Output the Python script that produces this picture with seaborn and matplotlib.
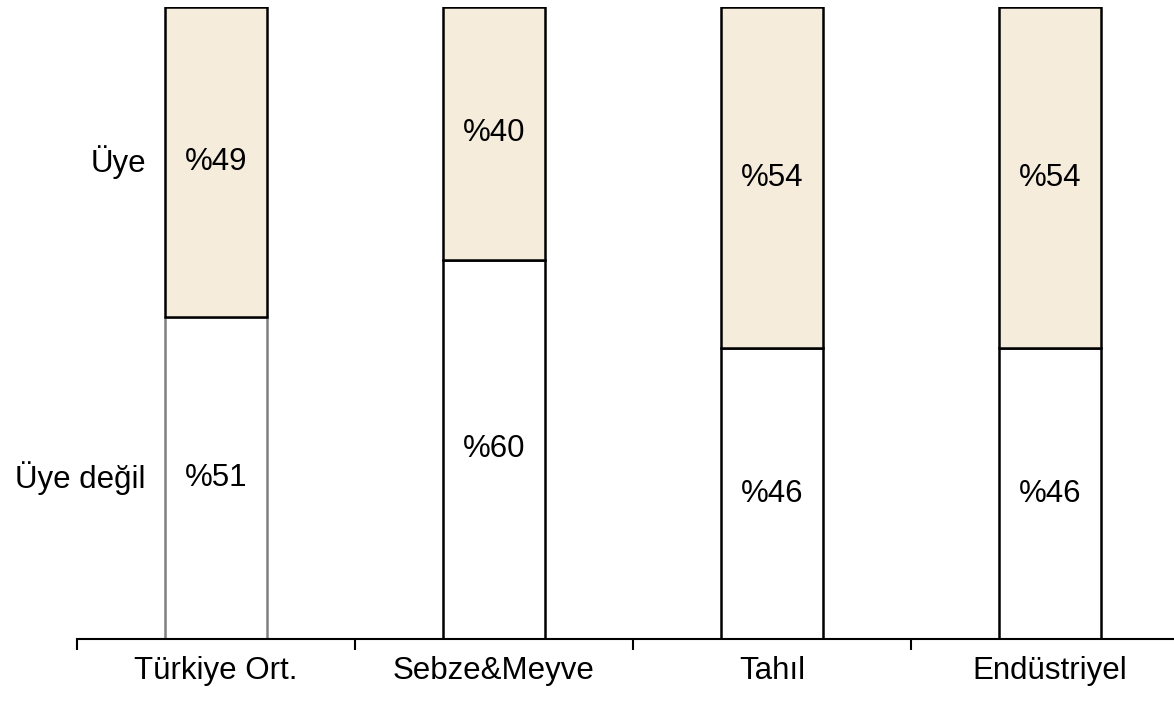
import matplotlib
matplotlib.use("Agg")
import matplotlib.pyplot as plt
import seaborn as sns
import pandas as pd

categories = ["Türkiye Ort.", "Sebze&Meyve", "Tahıl", "Endüstriyel"]
uye_degil = [51, 60, 46, 46]
uye = [49, 40, 54, 54]
series_labels = ["Üye", "Üye değil"]

BEIGE = "#F5ECDC"
FS = 22.5

sns.set_style("white")
plt.rcParams["font.family"] = ["Liberation Sans", "DejaVu Sans"]
plt.rcParams["text.color"] = "black"
plt.rcParams["xtick.color"] = "black"
plt.rcParams["xtick.labelcolor"] = "black"

df = pd.DataFrame({"cat": categories, "lower": uye_degil, "upper": uye})

fig = plt.figure(figsize=(11.74, 7.01), dpi=100)
ax = fig.add_axes([77 / 1174, 62 / 701, 1112 / 1174, 632 / 701])

w = 0.365
# lower segment (Üye değil)
sns.barplot(data=df, x="cat", y="lower", color="white", width=w,
            edgecolor="black", linewidth=1.8, ax=ax, saturation=1)
lower_patches = list(ax.patches)
# upper segment (Üye)
sns.barplot(data=df, x="cat", y="upper", color=BEIGE, width=w,
            edgecolor="black", linewidth=1.8, ax=ax, saturation=1)
upper_patches = ax.patches[len(lower_patches):]
for p, b in zip(upper_patches, df["lower"]):
    p.set_y(b)
    p.set_zorder(3)
# first bar lower segment has a grey outline
lower_patches[0].set_edgecolor("#808080")

for i, (lo, up) in enumerate(zip(uye_degil, uye)):
    ax.text(i, lo / 2, f"%{lo}", ha="center", va="center", fontsize=FS, zorder=5)
    ax.text(i, lo + up / 2, f"%{up}", ha="center", va="center", fontsize=FS, zorder=5)

# series labels to the left of the first bar
ax.annotate(series_labels[0], xy=(-w / 2, uye_degil[0] + uye[0] / 2),
            xytext=(-14, 0), textcoords="offset points",
            ha="right", va="center", fontsize=FS)
ax.annotate(series_labels[1], xy=(-w / 2, uye_degil[0] / 2),
            xytext=(-14, 0), textcoords="offset points",
            ha="right", va="center", fontsize=FS)

ax.set_xlim(-0.5, len(categories) - 0.5)
ax.set_ylim(0, 100)
ax.set_xlabel("")
ax.set_ylabel("")
ax.set_yticks([])
ax.set_xticks(range(len(categories)))
ax.set_xticklabels(categories, fontsize=FS)
ax.tick_params(axis="x", which="major", length=0, pad=12.5)
ax.set_xticks([i - 0.5 for i in range(len(categories) + 1)], minor=True)
ax.tick_params(axis="x", which="minor", length=8, width=1.5, color="black",
               direction="out", bottom=True)
for s in ["top", "right", "left"]:
    ax.spines[s].set_visible(False)
ax.spines["bottom"].set_color("black")
ax.spines["bottom"].set_linewidth(1.5)

fig.savefig("out.png", dpi=100)
